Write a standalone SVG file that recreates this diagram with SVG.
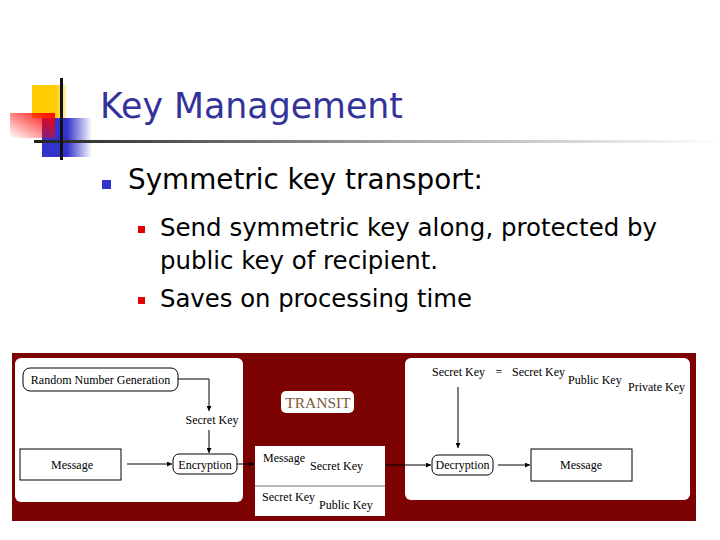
<svg xmlns="http://www.w3.org/2000/svg" width="720" height="540" viewBox="0 0 720 540">
<defs>
<style>
.t{font-family:"DejaVu Sans","Liberation Sans",sans-serif;fill:#000}
.s{font-family:"Liberation Serif","Times New Roman",serif;font-size:12px;fill:#000}
.box{fill:#fff;stroke:#000;stroke-width:1}
.ln{fill:none;stroke:#000;stroke-width:1}
</style>
<marker id="ah" viewBox="0 0 6 6" refX="6" refY="3" markerWidth="5" markerHeight="5" orient="auto" markerUnits="userSpaceOnUse">
<path d="M0,0 L6,3 L0,6 Z" fill="#000"/>
</marker>
<linearGradient id="gl" x1="0" x2="1" y1="0" y2="0">
<stop offset="0" stop-color="#222"/>
<stop offset="0.55" stop-color="#aaa"/>
<stop offset="1" stop-color="#fff"/>
</linearGradient>
<linearGradient id="gb" x1="0" x2="1" y1="0" y2="0">
<stop offset="0" stop-color="#3333cc"/>
<stop offset="0.5" stop-color="#3333cc"/>
<stop offset="1" stop-color="#3333cc" stop-opacity="0"/>
</linearGradient>
<linearGradient id="gy" x1="0" x2="1" y1="0" y2="0">
<stop offset="0" stop-color="#ffcc00"/>
<stop offset="0.7" stop-color="#ffcc00"/>
<stop offset="1" stop-color="#ffcc00" stop-opacity="0.3"/>
</linearGradient>
<linearGradient id="gr" x1="1" x2="0" y1="0" y2="1">
<stop offset="0" stop-color="#ff0000"/>
<stop offset="1" stop-color="#ff0000" stop-opacity="0"/>
</linearGradient>
</defs>
<rect width="720" height="540" fill="#fff"/>
<g id="logo">
<rect x="32" y="85" width="34" height="33" fill="url(#gy)"/>
<rect x="42" y="118" width="50" height="39" fill="url(#gb)"/>
<rect x="10" y="113" width="45" height="25" fill="url(#gr)"/>
<rect x="34" y="140" width="686" height="3" fill="url(#gl)"/>
<rect x="60" y="78" width="3" height="82" fill="#111"/>
</g>
<g id="title">
<text class="t" x="100" y="118" font-size="36" fill="#333399" style="fill:#333399" textLength="303" lengthAdjust="spacingAndGlyphs">Key Management</text>
</g>
<g id="bullets">
<rect x="102" y="180" width="9" height="9" fill="#3333cc"/>
<text class="t" x="128" y="189" font-size="28" textLength="355" lengthAdjust="spacingAndGlyphs">Symmetric key transport:</text>
<rect x="138" y="226" width="7" height="7" fill="#e00000"/>
<text class="t" x="160" y="236" font-size="25" textLength="497" lengthAdjust="spacingAndGlyphs">Send symmetric key along, protected by</text>
<text class="t" x="160" y="269" font-size="25" textLength="278" lengthAdjust="spacingAndGlyphs">public key of recipient.</text>
<rect x="138" y="297" width="7" height="7" fill="#e00000"/>
<text class="t" x="160" y="307" font-size="25" textLength="312" lengthAdjust="spacingAndGlyphs">Saves on processing time</text>
</g>
<g id="diagram-bg">
<rect x="12" y="353" width="684" height="168" fill="#7d0202"/>
<rect x="15" y="358" width="228" height="144" rx="6" fill="#fff"/>
<rect x="405" y="358" width="285" height="142" rx="6" fill="#fff"/>
</g>
<g id="rng">
<rect class="box" x="23" y="368" width="155" height="23" rx="7"/>
<text class="s" x="100.5" y="384" text-anchor="middle" font-size="12.5">Random Number Generation</text>
</g>
<g id="secret-key-left">
<text class="s" x="212" y="424" text-anchor="middle">Secret Key</text>
</g>
<g id="message-left">
<rect class="box" x="20" y="449" width="101" height="31"/>
<text class="s" x="72" y="469" text-anchor="middle">Message</text>
</g>
<g id="encryption">
<rect class="box" x="173" y="454" width="64" height="20" rx="6"/>
<text class="s" x="205" y="469" text-anchor="middle">Encryption</text>
</g>
<g id="transit-label">
<rect x="281" y="391" width="73" height="22" rx="5" fill="#fff"/>
<text x="318" y="408" text-anchor="middle" font-family="Liberation Serif, serif" font-size="15.5" fill="#7a5a3a">TRANSIT</text>
</g>
<g id="transit-box">
<rect x="255" y="446" width="130" height="70" fill="#fff"/>
<line x1="255" y1="486" x2="385" y2="486" stroke="#777" stroke-width="1"/>
<text class="s" x="263" y="462">Message</text>
<text class="s" x="310" y="470">Secret Key</text>
<text class="s" x="262" y="501">Secret Key</text>
<text class="s" x="319" y="509">Public Key</text>
</g>
<g id="key-equation">
<text class="s" x="432" y="376">Secret Key</text>
<text class="s" x="499" y="376" text-anchor="middle">=</text>
<text class="s" x="512" y="376">Secret Key</text>
<text class="s" x="568" y="384">Public Key</text>
<text class="s" x="628" y="391">Private Key</text>
</g>
<g id="decryption">
<rect class="box" x="432" y="455" width="61" height="20" rx="6"/>
<text class="s" x="462.5" y="469" text-anchor="middle">Decryption</text>
</g>
<g id="message-right">
<rect class="box" x="531" y="449" width="101" height="32"/>
<text class="s" x="581" y="469" text-anchor="middle">Message</text>
</g>
<g id="connectors">
<polyline class="ln" points="178,379 209,379 209,411" marker-end="url(#ah)"/>
<line class="ln" x1="209" y1="430" x2="209" y2="453" marker-end="url(#ah)"/>
<line class="ln" x1="127" y1="464" x2="172" y2="464" marker-end="url(#ah)"/>
<line class="ln" x1="237" y1="464" x2="254" y2="464" marker-end="url(#ah)"/>
<line class="ln" x1="385" y1="465" x2="431" y2="465" marker-end="url(#ah)"/>
<line class="ln" x1="458" y1="387" x2="458" y2="448" marker-end="url(#ah)"/>
<line class="ln" x1="498" y1="465" x2="530" y2="465" marker-end="url(#ah)"/>
</g>
</svg>
